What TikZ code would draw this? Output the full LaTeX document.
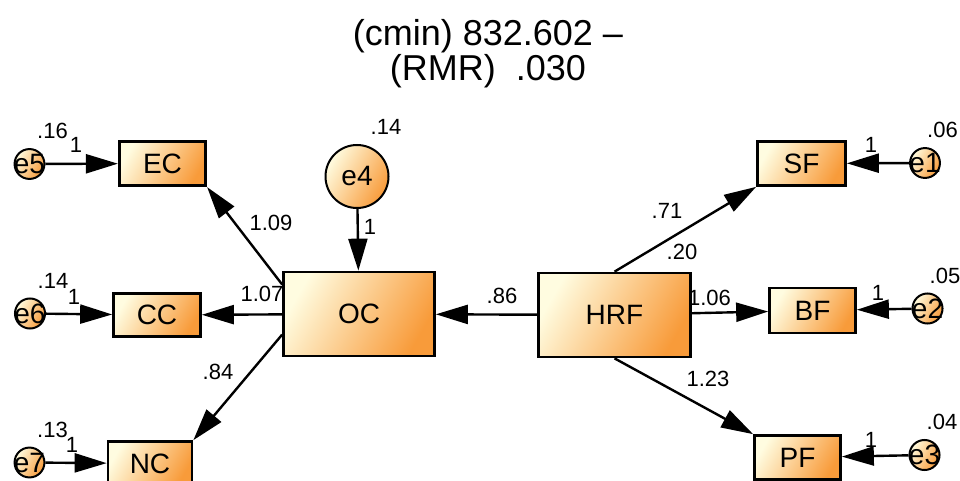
\documentclass[tikz,border=0pt]{standalone}
\usepackage{fontspec}
\setmainfont{Liberation Sans}
\usetikzlibrary{arrows.meta}
\definecolor{pale}{HTML}{FFFCE0}
\definecolor{amber}{HTML}{F89B3A}
\tikzset{
  var/.style={draw,line width=2.7pt,top color=pale,bottom color=amber,shading angle=60,inner sep=0pt,font=\fontsize{28}{28}\selectfont},
  err/.style={var,circle,line width=2pt,inner sep=-2.5pt},
  reg/.style={line width=2.4pt,-{Triangle[length=32pt,width=19pt]}},
  est/.style={inner sep=0pt,font=\fontsize{22}{22}\selectfont},
}
\begin{document}
\begin{tikzpicture}[x=1pt,y=-1pt]
\useasboundingbox (0,0) rectangle (960,481);
\node[anchor=base,font=\fontsize{36}{36}\selectfont] (fit1) at (488,46) {(cmin) 832.602 –};
\node[anchor=base,font=\fontsize{36}{36}\selectfont] (fit2) at (488,81) {(RMR)\ \ .030};
\node[var,minimum width=151pt,minimum height=84pt] (OC) at (359,314) {OC};
\node[var,minimum width=152pt,minimum height=84pt] (HRF) at (614.5,315) {HRF};
\node[var,minimum width=86.5pt,minimum height=44.5pt] (EC) at (162.5,163.5) {EC};
\node[var,minimum width=87pt,minimum height=43pt] (CC) at (157,315) {CC};
\node[var,minimum width=84pt,minimum height=44pt] (NC) at (150,463.5) {NC};
\node[var,minimum width=88pt,minimum height=44pt] (SF) at (801.5,163.5) {SF};
\node[var,minimum width=86pt,minimum height=45pt] (BF) at (812.5,310.5) {BF};
\node[var,minimum width=86pt,minimum height=44pt] (PF) at (797.5,457.5) {PF};
\node[err,minimum size=63pt,inner sep=0pt] (e4) at (357,176.5) {e4};
\foreach \n/\x/\y/\v in {5/29.5/164/.16,6/30/313.5/.14,7/29.5/462.5/.13}
  {\node[err] (e\n) at (\x,\y) {e\n};
  \node[est] (var\n) at ([shift={(23,-33)}]e\n.center) {\v};}
\foreach \n/\x/\y/\v in {1/925/163/.06,2/927.5/308.5/.05,3/924.5/455/.04}
  {\node[err] (e\n) at (\x,\y) {e\n};
  \node[est,anchor=east] (var\n) at ([shift={(33,-33)}]e\n.center) {\v};}
\node[est] (var4) at (386,127) {.14};
\draw[reg] (e5) -- (EC);
\draw[reg] (e6) -- (CC);
\draw[reg] (e7) -- (NC);
\draw[reg] (e4) -- (OC);
\draw[reg] (e1) -- (SF);
\draw[reg] (e2) -- (BF);
\draw[reg] (e3) -- (PF);
\draw[reg] (OC.159) -- (EC.south east);
\draw[reg] (OC) -- (CC);
\draw[reg] (OC.195) -- (NC.north east);
\draw[reg] (HRF) -- (OC);
\draw[reg] (HRF.north) -- (SF.south west);
\draw[reg] (HRF) -- (BF);
\draw[reg] (HRF.south) -- (PF.north west);
\node[est] (w5) at (76,145) {1};
\node[est] (w6) at (74,297) {1};
\node[est] (w7) at (72,445) {1};
\node[est] (w4) at (370,227) {1};
\node[est] (w1) at (871,145) {1};
\node[est] (w2) at (878,293) {1};
\node[est] (w3) at (871,440) {1};
\node[est] (bEC) at (271,223) {1.09};
\node[est] (bCC) at (262,294) {1.07};
\node[est] (bNC) at (218,372) {.84};
\node[est] (bOC) at (502,296) {.86};
\node[est] (bSF) at (667,211) {.71};
\node[est] (rOC) at (682,252) {.20};
\node[est] (bBF) at (709.5,298) {1.06};
\node[est] (bPF) at (708,379) {1.23};
\end{tikzpicture}
\end{document}
